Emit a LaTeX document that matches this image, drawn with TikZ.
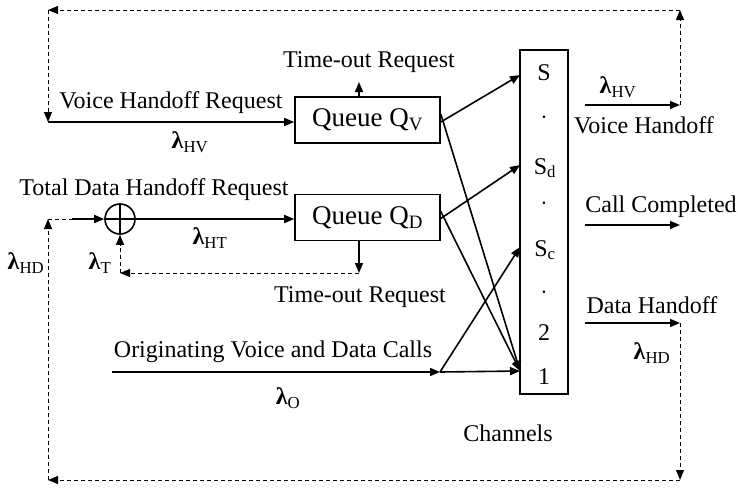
\documentclass[tikz,border=0pt]{standalone}
\usepackage{fontspec}
\setmainfont{Liberation Serif}
\usetikzlibrary{arrows.meta}
\newcommand{\lam}[1]{\textbf{λ}\textsubscript{#1}}
\tikzset{
	flow/.style={line width=1.6pt,-{Triangle[length=10pt,width=8pt]}},
	fb/.style={line width=1pt,dash pattern=on 4pt off 3pt},
	fbarr/.style={fb,-{Triangle[length=10pt,width=8pt]}},
	qbox/.style={draw,line width=1.6pt,minimum width=145pt,minimum height=46pt,inner sep=0pt,font=\fontsize{27}{30}\selectfont},
	txt/.style={inner sep=0pt}
}
\begin{document}
\begin{tikzpicture}[x=1pt,y=-1pt,font=\fontsize{24}{28}\selectfont]
	\useasboundingbox (0,0) rectangle (738,491);
	% queues and channels
	\node[qbox] (qv) at (367.5,120) {Queue Q\textsubscript{V}};
	\node[qbox] (qd) at (367.5,217.5) {Queue Q\textsubscript{D}};
	\node[draw,line width=1.6pt,minimum width=48pt,minimum height=344pt,inner sep=0pt] (ch) at (544,222) {};
	\node[txt] (cs) at (544,73) {S};
	\node[txt] (cd1) at (544,118) {$\cdot$};
	\node[txt] (csd) at (545,168) {S\textsubscript{d}};
	\node[txt] (cd2) at (544,204) {$\cdot$};
	\node[txt] (csc) at (545,250) {S\textsubscript{c}};
	\node[txt] (cd3) at (544,293) {$\cdot$};
	\node[txt] (c2) at (544,333) {2};
	\node[txt] (c1) at (544,377) {1};
	\node[txt] (chl) at (508,433) {Channels};
	% summing point
	\node[circle,draw,line width=1.6pt,minimum size=30pt,inner sep=0pt] (sum) at (120,219) {};
	\draw[line width=1.6pt] (sum.north) -- (sum.south) (sum.west) -- (sum.east);
	% points
	\coordinate (vin) at (48,122);
	\coordinate (tl) at (48,10);
	\coordinate (tr) at (680,10);
	\coordinate (vhs) at (585,105);
	\coordinate (vhe) at (680,105);
	\coordinate (ccs) at (585,225);
	\coordinate (cce) at (680,225);
	\coordinate (dhs) at (585,323);
	\coordinate (dhe) at (680,323);
	\coordinate (br) at (680,480);
	\coordinate (bl) at (48,480);
	\coordinate (din) at (48,219);
	\coordinate (dsol) at (72,219);
	\coordinate (tup) at (359,82);
	\coordinate (tdn) at (359,273);
	\coordinate (tcor) at (120,273);
	\coordinate (oin) at (112,372);
	\coordinate (split) at (440,372);
	\coordinate (inS) at (520,75);
	\coordinate (inSd) at (520,165);
	\coordinate (inSc) at (520,247);
	\coordinate (in1) at (520,371);
	% voice branch
	\draw[flow] (vin) -- (qv.west |- vin);
	\draw[flow] (qv.north -| tup) -- (tup);
	\draw[flow] ([yshift=-2pt]qv.east) -- (inS);
	\draw[flow] ([yshift=6pt]qv.east) -- (in1);
	% data branch
	\draw[fb] (din) -- (dsol);
	\draw[flow] (dsol) -- (sum.west);
	\draw[flow] (sum.east) -- (qd.west |- sum.east);
	\draw[flow] (qd.south -| tdn) -- (tdn);
	\draw[fbarr] (tdn) -- (tcor);
	\draw[fbarr] (tcor) -- (sum.south);
	\draw[flow] ([yshift=-1pt]qd.east) -- (inSd);
	\draw[flow] ([yshift=6pt]qd.east) -- (in1);
	% originating calls
	\draw[flow] (oin) -- (split);
	\draw[flow] (split) -- (in1);
	\draw[flow] (split) -- (inSc);
	% outputs
	\draw[flow] (vhs) -- (vhe);
	\draw[flow] (ccs) -- (cce);
	\draw[flow] (dhs) -- (dhe);
	% feedback loops
	\draw[fbarr] (vhe) -- (tr);
	\draw[fbarr] (tr) -- (tl);
	\draw[fbarr] (tl) -- (vin);
	\draw[fbarr] (dhe) -- (br);
	\draw[fbarr] (br) -- (bl);
	\draw[fbarr] (bl) -- (din);
	% labels
	\node[txt] (tov) at (369,62) {Time-out Request};
	\node[txt] (vhr) at (171,103) {Voice Handoff Request};
	\node[txt] (lhv) at (190,142) {\lam{HV}};
	\node[txt] (tdh) at (154,190) {Total Data Handoff Request};
	\node[txt] (lht) at (210,238) {\lam{HT}};
	\node[txt] (lt) at (100,263) {\lam{T}};
	\node[txt] (lhd) at (26,263) {\lam{HD}};
	\node[txt] (tod) at (360,297) {Time-out Request};
	\node[txt] (ovd) at (273,352) {Originating Voice and Data Calls};
	\node[txt] (lo) at (288,398) {\lam{O}};
	\node[txt] (lhv2) at (618,87) {\lam{HV}};
	\node[txt] (vho) at (644,125) {Voice Handoff};
	\node[txt] (cco) at (661,207) {Call Completed};
	\node[txt] (dho) at (652,305) {Data Handoff};
	\node[txt] (lhd2) at (652,353) {\lam{HD}};
\end{tikzpicture}
\end{document}
